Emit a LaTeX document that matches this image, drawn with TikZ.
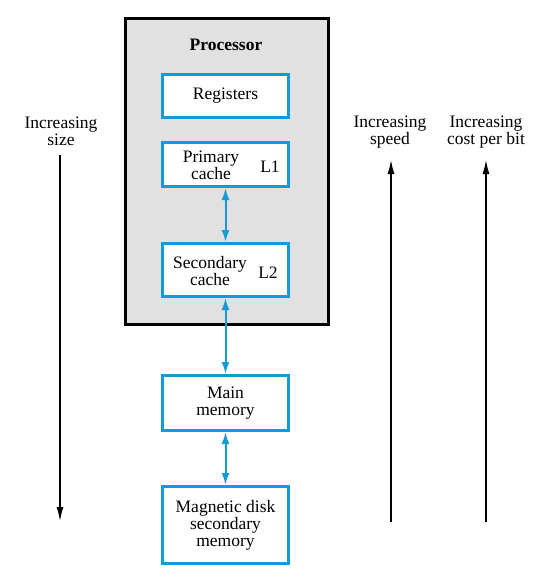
\documentclass[tikz,border=0pt]{standalone}
\usepackage{fontspec}
\setmainfont{Liberation Serif}
\newfontfamily\figfont{Liberation Serif}
\usetikzlibrary{arrows.meta}

\definecolor{memblue}{RGB}{20,155,215}
\definecolor{procgray}{RGB}{225,225,225}

\begin{document}
\begin{tikzpicture}[x=1pt, y=-1pt,
    font=\figfont\fontsize{17.5}{17}\selectfont,
    membox/.style={draw=memblue, line width=3pt, fill=white, minimum width=126pt, inner sep=0pt},
    txt/.style={align=center, inner sep=0pt},
    link/.style={draw=memblue, line width=2pt, {Latex[length=12pt,width=8pt]}-{Latex[length=12pt,width=8pt]}},
    trend/.style={line width=1.3pt, -{Latex[length=14pt,width=7pt]}}]
\useasboundingbox (0,0) rectangle (547,573);

% processor chip
\node[draw, line width=3pt, fill=procgray, minimum width=203pt, minimum height=306pt, inner sep=0pt] (cpu) at (226.5,171.5) {};
\node[txt, font=\figfont\fontsize{17.5}{17}\selectfont\bfseries] (cpulbl) at (226,45) {Processor};

% levels
\node[membox, minimum height=43pt] (reg) at (225.5,95.5) {};
\node[txt] (regtxt) at (225.5,96) {Registers};
\node[membox, minimum height=44pt] (l1) at (225.5,164.5) {};
\node[txt] (l1txt) at (211,165) {Primary\\cache};
\node[txt] (l1lbl) at (270,167) {L1};
\node[membox, minimum height=53pt] (l2) at (225.5,270) {};
\node[txt] (l2txt) at (210,271) {Secondary\\cache};
\node[txt] (l2lbl) at (268,273) {L2};
\node[membox, minimum height=55pt] (mm) at (225.5,403) {};
\node[txt] (mmtxt) at (225.5,403) {Main\\memory};
\node[membox, minimum height=77pt] (disk) at (225.5,525) {};
\node[txt] (disktxt) at (225.5,525) {Magnetic disk\\secondary\\memory};

\draw[link] (l1) -- (l2);
\draw[link] (l2) -- (mm);
\draw[link] (mm) -- (disk);

% trends
\node[txt] (size) at (61,131) {Increasing\\size};
\node[txt] (speed) at (390,132) {Increasing\\speed};
\node[txt] (cost) at (486,132) {Increasing\\cost per bit};
\coordinate (sizeend) at (60,521);
\coordinate (speedbot) at (391,522);
\coordinate (costbot) at (486,522);
\draw[trend] (60,155) -- (sizeend);
\draw[trend] (speedbot) -- (391,160);
\draw[trend] (costbot) -- (486,160);
\end{tikzpicture}
\end{document}
